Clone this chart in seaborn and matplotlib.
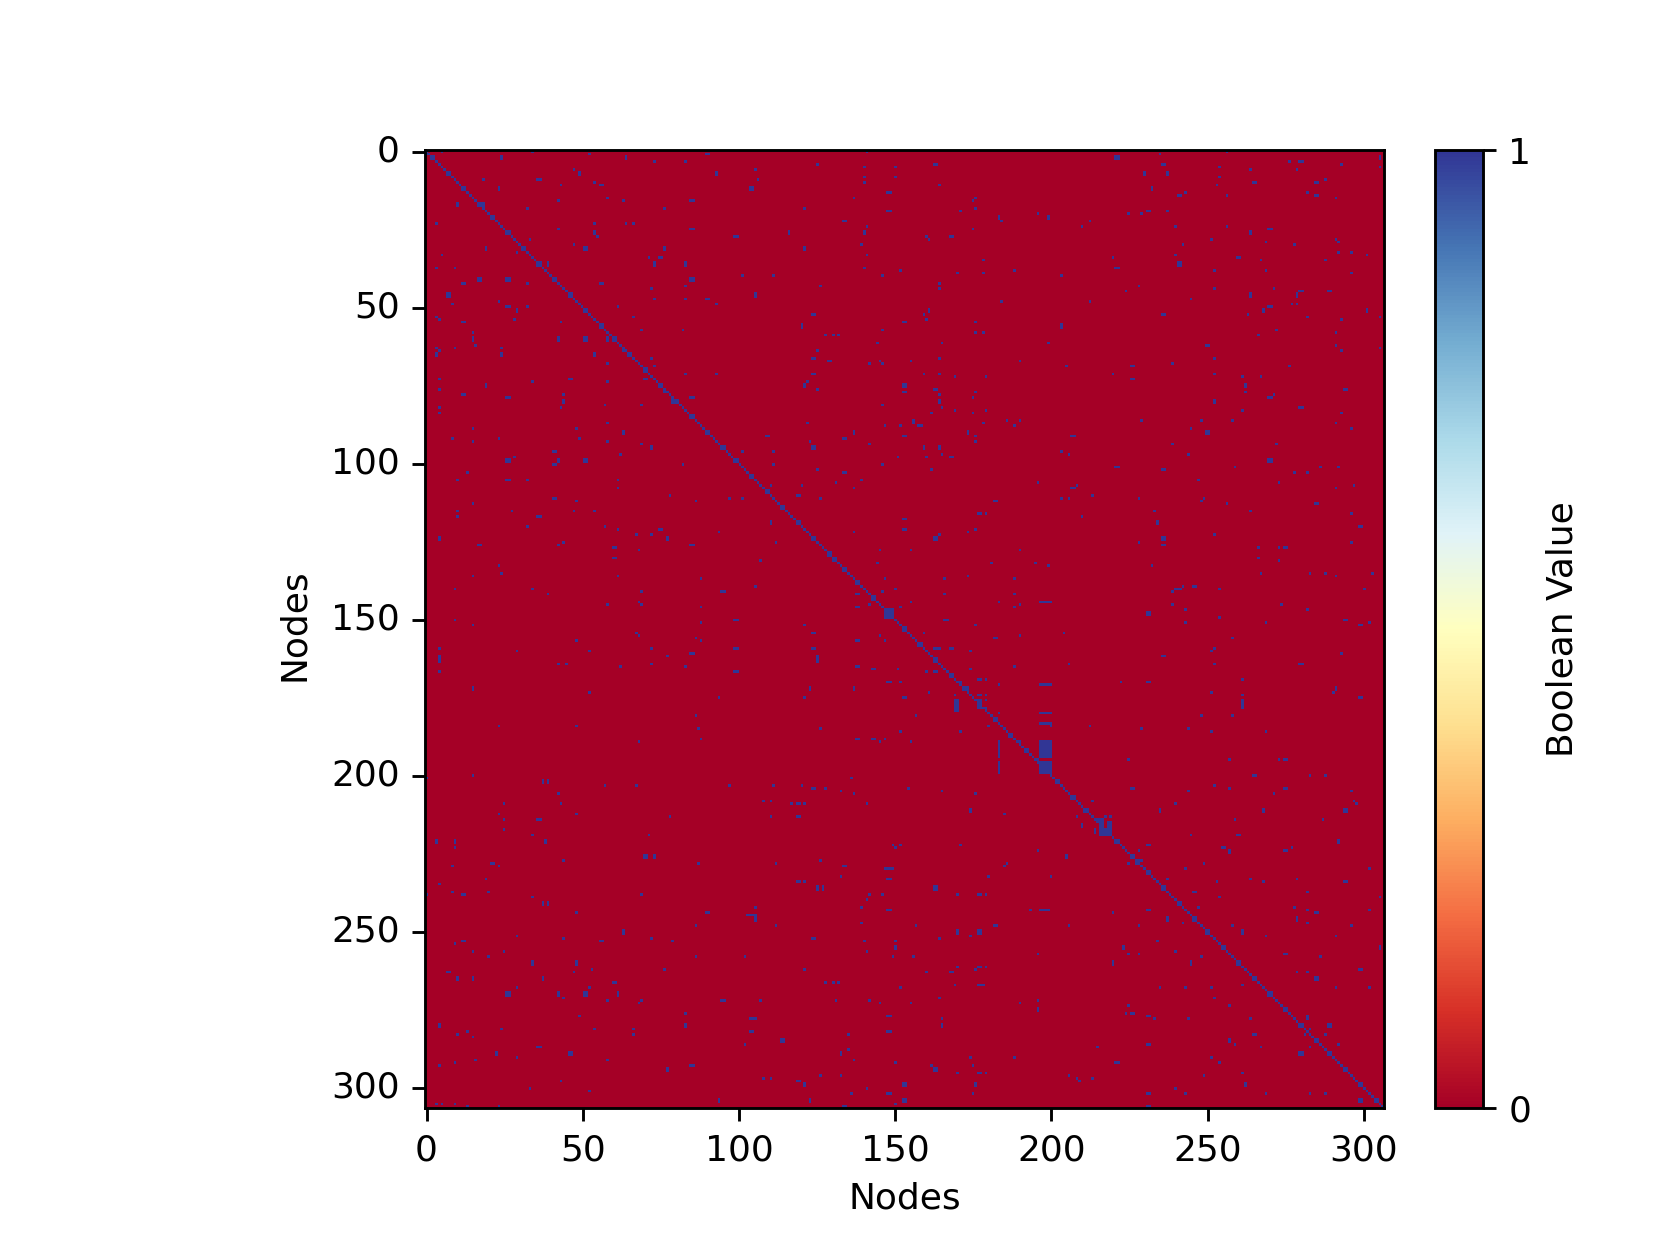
import numpy as np
import pandas as pd
import matplotlib
matplotlib.use("Agg")
import matplotlib.pyplot as plt
import seaborn as sns

n_nodes = 307
tick_nodes = [0, 50, 100, 150, 200, 250, 300]
cbar_ticks = [0, 1]

# every node links to itself
self_links = [
    0, 1, 2, 3, 4, 5, 6, 7, 8, 9, 10, 11, 12, 13, 14, 15, 16, 17, 18, 19, 20, 21, 22, 23, 24, 25, 26, 27, 28, 29,
    30, 31, 32, 33, 34, 35, 36, 37, 38, 39, 40, 41, 42, 43, 44, 45, 46, 47, 48, 49, 50, 51, 52, 53, 54, 55, 56, 57, 58, 59,
    60, 61, 62, 63, 64, 65, 66, 67, 68, 69, 70, 71, 72, 73, 74, 75, 76, 77, 78, 79, 80, 81, 82, 83, 84, 85, 86, 87, 88, 89,
    90, 91, 92, 93, 94, 95, 96, 97, 98, 99, 100, 101, 102, 103, 104, 105, 106, 107, 108, 109, 110, 111, 112, 113, 114, 115, 116, 117, 118, 119,
    120, 121, 122, 123, 124, 125, 126, 127, 128, 129, 130, 131, 132, 133, 134, 135, 136, 137, 138, 139, 140, 141, 142, 143, 144, 145, 146, 147, 148, 149,
    150, 151, 152, 153, 154, 155, 156, 157, 158, 159, 160, 161, 162, 163, 164, 165, 166, 167, 168, 169, 170, 171, 172, 173, 174, 175, 176, 177, 178, 179,
    180, 181, 182, 183, 184, 185, 186, 187, 188, 189, 190, 191, 192, 193, 194, 195, 196, 197, 198, 199, 200, 201, 202, 203, 204, 205, 206, 207, 208, 209,
    210, 211, 212, 213, 214, 215, 216, 217, 218, 219, 220, 221, 222, 223, 224, 225, 226, 227, 228, 229, 230, 231, 232, 233, 234, 235, 236, 237, 238, 239,
    240, 241, 242, 243, 244, 245, 246, 247, 248, 249, 250, 251, 252, 253, 254, 255, 256, 257, 258, 259, 260, 261, 262, 263, 264, 265, 266, 267, 268, 269,
    270, 271, 272, 273, 274, 275, 276, 277, 278, 279, 280, 281, 282, 283, 284, 285, 286, 287, 288, 289, 290, 291, 292, 293, 294, 295, 296, 297, 298, 299,
    300, 301, 302, 303, 304, 305, 306,
]

# (row, col) pairs, one list per part of the matrix
links_top_left = [
    (0,5),(0,34),(1,0),(1,52),(1,90),(2,24),(2,64),(3,73),(3,83),(6,47),(7,49),(7,93),(9,18),(9,36),(10,54),(11,56),(11,43),(12,23),
    (15,58),(16,42),(16,63),(16,85),(17,10),(17,18),(18,32),(18,76),(23,3),(23,54),(23,64),(23,66),(25,42),(25,85),(26,54),(27,55),
    (27,99),(28,33),(30,47),(31,51),(31,19),(31,76),(32,29),(33,5),(34,71),(34,75),(37,3),(37,9),(36,39),(36,73),(36,83),(40,101),
    (42,12),(41,17),(41,26),(42,32),(42,56),(41,85),(43,83),(44,72),(46,7),(47,73),(47,83),(47,90),(48,23),(49,8),(49,93),(50,26),
    (50,32),(50,61),(51,29),(53,3),(54,4),(54,28),(53,66),(55,12),(55,43),(57,69),(57,82),(58,15),(60,15),(60,42),(60,51),(60,58),
    (62,16),(63,3),(63,9),(63,24),(64,4),(64,63),(65,3),(65,24),(65,54),(66,72),(68,58),(69,73),(71,83),(71,93),(73,4),(73,46),(73,70),
    (74,34),(74,58),(75,19),(76,4),(77,76),(78,12),(78,44),(79,26),(79,85),(80,79),(80,44),(81,57),(81,69),(82,4),(82,43),(84,4),(87,58),
    (89,15),(89,48),(90,63),(92,8),(92,23),(92,49),(93,15),(93,58),(94,69),(95,72),(96,41),(96,101),(97,62),(98,28),(99,26),(99,42),
    (99,51),(100,41),(100,82),
]
links_top_mid = [
    (0,141),(4,125),(5,140),(5,150),(4,163),(6,105),(8,140),(8,150),(9,106),(10,140),(11,164),(12,104),(13,148),(15,137),(15,176),
    (16,175),(18,121),(18,176),(19,148),(19,171),(20,196),(21,183),(21,199),(22,134),(22,184),(24,141),(25,175),(26,116),(26,140),
    (27,160),(28,161),(27,168),(30,139),(31,121),(33,141),(35,178),(37,140),(38,152),(39,170),(39,178),(38,188),(40,111),(40,146),
    (40,203),(42,164),(43,126),(44,164),(46,105),(48,184),(52,124),(52,159),(51,161),(54,160),(55,153),(55,176),(56,120),(56,203),
    (57,146),(58,176),(58,178),(59,128),(59,130),(59,132),(61,144),(61,165),(61,199),(64,125),(66,124),(66,164),(67,129),(67,145),
    (67,155),(67,190),(68,142),(68,146),(71,124),(71,159),(71,164),(72,169),(72,179),(74,122),(75,121),(76,125),(75,153),(76,163),
    (77,153),(77,176),(78,164),(79,175),(80,164),(81,146),(82,165),(83,169),(83,179),(84,162),(84,175),(86,156),(87,156),(87,122),
    (88,147),(88,152),(88,158),(87,178),(86,186),(86,190),(88,188),(91,109),(90,137),(91,153),(90,173),(91,176),(92,134),(93,123),
    (93,176),(94,142),(96,111),(95,124),(95,159),(95,164),(96,203),(97,165),(98,151),(98,160),(98,168),(100,111),(100,146),
]
links_top_right = [
    (0,256),(1,235),(2,221),(4,236),(3,276),(3,280),(4,293),(2,305),(5,305),(5,254),(6,264),(6,279),(7,230),(7,237),(8,254),(9,288),
    (10,285),(10,265),(11,253),(12,232),(13,282),(13,243),(14,241),(14,256),(14,285),(15,291),(19,231),(19,237),(20,225),(20,229),
    (22,212),(24,210),(24,240),(24,256),(25,270),(26,264),(28,291),(29,292),(28,251),(30,242),(29,269),(30,278),(32,292),(32,296),
    (33,301),(33,240),(34,220),(34,260),(35,267),(35,288),(36,241),(37,221),(38,252),(38,269),(39,296),(43,228),(44,252),(44,271),
    (45,224),(45,280),(45,289),(46,264),(46,279),(47,245),(48,212),(49,277),(49,279),(50,270),(52,236),(52,263),(51,268),(51,301),
    (53,282),(54,293),(53,305),(57,272),(58,291),(59,266),(62,250),(62,291),(64,293),(63,305),(66,252),(69,205),(69,226),(69,276),
    (68,239),(71,220),(71,252),(73,226),(72,261),(72,267),(75,262),(77,262),(78,271),(79,270),(76,294),(80,252),(82,280),(83,261),
    (84,293),(86,248),(86,258),(86,229),(87,291),(89,245),(89,296),(90,250),(91,207),(94,239),(94,272),(97,206),(97,244),(99,270),
    (101,221),(101,259),(101,286),(101,292),
]
links_mid_left = [
    (103,13),(105,10),(105,26),(105,32),(105,61),(108,61),(110,78),(111,41),(111,97),(111,101),(112,48),(112,86),(113,15),(115,10),
    (115,47),(115,27),(115,54),(117,10),(117,36),(120,57),(120,32),(121,61),(121,75),(122,94),(124,4),(123,67),(123,72),(124,77),
    (125,44),(126,17),(126,42),(126,85),(127,60),(128,68),(130,60),(133,23),(135,24),(136,15),(136,61),(137,88),(140,9),(140,34),
    (142,39),(141,69),(141,95),(145,58),(144,68),(145,69),(146,88),(150,9),(152,15),(151,88),(150,99),(154,67),(155,68),(156,86),
    (157,48),(157,88),(159,4),(159,99),(160,29),(160,52),(159,72),(161,85),(162,4),(163,4),(162,77),(164,42),(164,45),(164,72),
    (165,62),(165,83),(167,4),(167,99),(172,15),(173,52),(175,94),(181,86),(184,23),(184,48),(185,87),(188,88),(189,68),(200,15),
    (201,0),(202,37),(202,39),(203,57),(203,97),(203,67),
]
links_mid_mid = [
    (102,125),(103,134),(102,162),(105,139),(106,131),(106,196),(107,120),(107,110),(108,137),(110,119),(111,126),(111,203),(112,182),
    (116,177),(116,179),(119,110),(118,153),(121,153),(121,176),(122,173),(123,164),(124,163),(122,137),(125,112),(128,145),(128,155),
    (128,190),(131,107),(132,144),(132,181),(132,195),(133,199),(136,173),(137,147),(137,166),(137,188),(139,105),(140,150),(141,146),
    (142,138),(142,166),(142,188),(144,183),(144,197),(144,198),(144,199),(144,200),(144,155),(145,190),(145,142),(146,138),(146,152),
    (146,188),(147,148),(147,149),(148,147),(148,149),(149,147),(149,148),(150,166),(150,167),(152,121),(152,176),(154,124),(154,159),
    (155,145),(155,190),(154,204),(156,182),(157,138),(157,147),(159,124),(159,163),(159,164),(159,168),(160,174),(162,125),(163,125),
    (165,138),(166,143),(165,188),(166,174),(166,151),(167,160),(167,163),(169,177),(169,179),(170,148),(170,152),(170,171),(172,123),
    (172,137),(172,173),(171,183),(171,197),(171,198),(171,199),(171,200),(173,161),(174,169),(174,177),(174,179),(175,121),(175,153),
    (176,169),(176,170),(177,169),(177,170),(178,169),(178,170),(179,169),(179,170),(176,177),(176,179),(178,179),(178,177),(180,183),
    (180,197),(180,198),(180,199),(180,200),(181,157),(184,180),(183,197),(183,198),(183,199),(183,200),(184,200),(185,126),(186,152),
    (186,171),(188,138),(188,143),(188,147),(189,183),(189,197),(189,198),(189,199),(189,200),(189,145),(189,155),(189,190),(195,196),
    (201,136),(203,111),(203,120),(204,124),(204,154),(130,131),(131,130),
]
links_mid_right = [
    (102,236),(105,247),(103,278),(103,282),(106,273),(107,208),(108,207),(108,291),(107,297),(110,213),(111,206),(111,228),(111,249),
    (112,248),(113,256),(113,285),(115,233),(115,264),(117,210),(116,296),(119,234),(120,299),(123,252),(124,236),(126,236),(125,228),
    (125,296),(127,266),(127,273),(127,275),(130,266),(131,273),(133,232),(135,267),(135,283),(135,288),(136,291),(135,303),(139,242),
    (139,246),(140,254),(140,240),(140,241),(141,239),(140,300),(145,274),(145,239),(148,231),(147,243),(147,282),(149,254),(150,294),
    (151,243),(151,269),(151,302),(152,299),(156,258),(159,252),(160,251),(161,293),(162,236),(164,252),(164,206),(164,280),(169,261),
    (170,222),(170,231),(172,291),(173,290),(173,251),(174,261),(175,299),(176,261),(177,261),(178,261),(181,248),(181,258),(184,212),
    (185,229),(185,244),(186,251),(186,269),(195,225),(195,257),(195,273),(195,275),(200,265),(200,283),(200,288),(203,252),
]
links_low_left = [
    (206,42),(209,43),(209,25),(212,23),(212,48),(214,25),(214,36),(213,78),(217,25),(219,34),(219,71),(221,3),(221,9),(221,38),(223,9),
    (226,70),(226,73),(227,44),(228,21),(229,8),(229,23),(228,87),(233,19),(235,4),(237,8),(237,20),(238,12),(238,69),(239,34),(238,0),
    (241,37),(241,39),(244,48),(244,90),(248,86),(250,63),(251,29),(252,44),(252,72),(253,12),(253,56),(253,79),(254,9),(256,15),(256,25),
    (258,86),(258,20),(260,34),(260,48),(262,76),(262,53),(263,7),(263,47),(265,10),(265,15),(265,37),(266,60),(268,29),(268,52),(270,26),
    (270,42),(270,51),(270,61),(271,44),(272,58),(272,69),(272,95),(273,68),(276,83),(277,49),(280,4),(280,83),(281,24),(281,54),(281,66),
    (282,13),(283,66),(283,10),(284,15),(287,36),(289,22),(289,46),(290,29),(291,16),(291,58),(292,9),(293,4),(294,77),(293,85),(298,43),
    (300,33),(301,52),(304,94),(305,3),(305,5),(305,9),(306,13),(306,23),
]
links_low_mid = [
    (204,128),(205,133),(206,137),(205,165),(206,176),(208,108),(208,110),(209,119),(209,121),(209,117),(209,141),(211,174),(212,185),
    (213,110),(213,119),(222,171),(222,149),(222,152),(223,150),(224,196),(228,112),(227,126),(229,134),(228,186),(229,185),(230,147),
    (230,148),(230,149),(233,148),(232,133),(232,180),(232,200),(234,119),(234,121),(236,125),(236,127),(236,163),(238,170),(238,177),
    (238,179),(238,142),(238,146),(240,141),(242,105),(242,139),(243,148),(243,193),(243,197),(243,198),(243,199),(245,103),(245,104),
    (245,105),(246,105),(247,139),(248,157),(248,182),(248,112),(250,170),(250,177),(251,174),(252,124),(252,164),(253,140),(253,150),
    (255,150),(256,141),(257,196),(258,156),(258,149),(258,102),(261,170),(261,177),(261,179),(262,121),(262,176),(263,160),(263,168),
    (266,128),(266,130),(266,132),(267,169),(267,177),(267,178),(268,152),(271,164),(272,107),(272,131),(272,142),(273,145),(273,155),
    (273,190),(272,196),(275,196),(277,148),(278,104),(278,105),(278,165),(280,165),(282,104),(282,148),(283,135),(285,114),(286,102),
    (288,135),(289,133),(291,137),(290,174),(290,188),(292,150),(293,162),(293,175),(294,163),(295,170),(295,177),(295,179),(296,126),
    (296,133),(297,108),(297,110),(298,119),(299,121),(299,153),(299,176),(300,141),(302,136),(302,148),(302,175),(304,123),(304,153),
    (305,150),(306,134),
]
links_low_right = [
    (204,226),(205,244),(204,257),(204,275),(205,296),(206,271),(208,213),(208,297),(209,298),(209,240),(211,235),(211,268),(211,294),
    (213,208),(214,259),(214,287),(216,210),(214,215),(214,216),(215,215),(215,216),(213,217),(213,219),(217,214),(218,214),(215,218),
    (215,219),(216,218),(216,219),(217,216),(217,217),(217,218),(217,219),(218,216),(218,217),(218,218),(218,219),(219,216),(219,217),
    (219,218),(219,219),(219,245),(219,260),(221,292),(222,231),(223,255),(224,257),(225,257),(224,275),(223,277),(226,205),(224,228),
    (228,249),(228,225),(227,227),(227,228),(227,229),(228,227),(230,243),(230,302),(233,237),(234,253),(233,264),(233,279),(234,268),
    (234,294),(237,246),(237,282),(239,254),(239,305),(242,247),(242,278),(243,282),(243,302),(243,231),(244,220),(244,285),(246,237),
    (246,279),(247,242),(247,282),(248,258),(248,206),(248,228),(248,296),(250,261),(251,269),(251,291),(253,234),(255,223),(255,305),
    (256,240),(257,225),(257,228),(257,275),(258,248),(258,286),(260,220),(260,245),(262,299),(263,279),(263,282),(265,285),(267,261),
    (268,235),(268,243),(268,251),(268,291),(268,302),(271,252),(274,225),(276,224),(276,226),(274,257),(277,231),(277,282),(278,233),
    (278,244),(278,264),(278,282),(280,289),(283,288),(281,283),(283,281),(283,265),(285,257),(286,231),(286,259),(286,292),(287,215),
    (287,267),(287,283),(289,280),(290,251),(292,254),(292,221),(295,261),(296,206),(296,249),(297,208),(298,209),(297,213),(299,262),
    (300,240),(302,231),(302,243),(302,269),(302,283),(302,288),(304,299),(306,231),
]

# solid group of nodes around 190-199
group_rows = [190, 191, 192, 193, 194, 196, 197, 198, 199]
group_cols = [197, 198, 199, 200]
group_col_extra = [183]

matrix = np.zeros((n_nodes, n_nodes), dtype=int)
matrix[self_links, self_links] = 1
for part in [links_top_left, links_top_mid, links_top_right, links_mid_left, links_mid_mid,
             links_mid_right, links_low_left, links_low_mid, links_low_right]:
    for r, c in part:
        matrix[r, c] = 1
matrix[np.ix_(group_rows, group_cols)] = 1
matrix[np.ix_(group_rows, group_col_extra)] = 1

# the original raster has 370 pixels for 307 nodes, so some nodes come out two pixels wide
raster_size = 370
node_at_pixel = ((np.arange(raster_size) + 0.5) * n_nodes / raster_size).astype(int)
raster = matrix[np.ix_(node_at_pixel, node_at_pixel)]
tick_pos = [(t + 0.5) * raster_size / n_nodes for t in tick_nodes]

fig = plt.figure(figsize=(6.4, 4.8), dpi=259.375)
W, H = 1660, 1245
ax = fig.add_axes([425 / W, 1 - 1108 / H, 959 / W, 958 / H])
cax = fig.add_axes([1435 / W, 1 - 1108 / H, 48 / W, 958 / H])

sns.heatmap(pd.DataFrame(raster), cmap='RdYlBu', vmin=0, vmax=1, square=False, ax=ax, cbar_ax=cax,
            cbar_kws={'ticks': cbar_ticks, 'label': 'Boolean Value'})

ax.set_xticks(tick_pos)
ax.set_xticklabels(tick_nodes, rotation=0)
ax.set_yticks(tick_pos)
ax.set_yticklabels(tick_nodes, rotation=0)
ax.set_xlabel('Nodes')
ax.set_ylabel('Nodes', labelpad=5.5, y=0.504)
for spine in ax.spines.values():
    spine.set_visible(True)
    spine.set_linewidth(0.8)
    spine.set_color('black')

cbar = ax.collections[0].colorbar
cbar.outline.set_visible(True)
cbar.outline.set_linewidth(0.8)
cbar.outline.set_edgecolor('black')
cax.tick_params(length=3.5, width=0.8)

fig.savefig('out.png', dpi=259.375)
